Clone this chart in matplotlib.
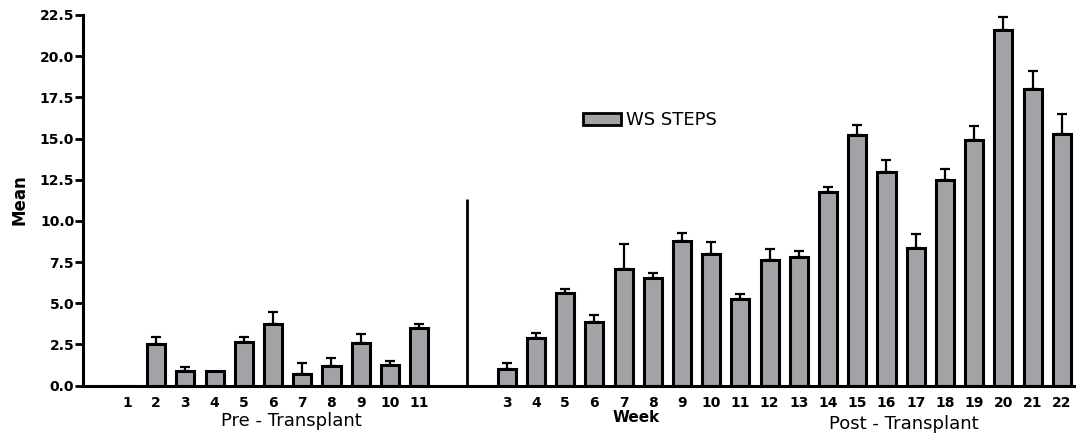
import numpy as np
import matplotlib
matplotlib.use("Agg")
import matplotlib.pyplot as plt

# ------------------------------------------------------------
# data
# ------------------------------------------------------------
PRE_WEEKS = [1, 2, 3, 4, 5, 6, 7, 8, 9, 10, 11]
PRE_MEAN = [0.0, 2.50, 0.90, 0.90, 2.62, 3.73, 0.68, 1.18, 2.56, 1.22, 3.47]
PRE_ERR = [0.0, 0.46, 0.20, 0.0, 0.32, 0.71, 0.69, 0.51, 0.55, 0.27, 0.24]

POST_WEEKS = [3, 4, 5, 6, 7, 8, 9, 10, 11, 12, 13, 14, 15, 16, 17, 18, 19, 20, 21, 22]
POST_MEAN = [0.98, 2.90, 5.60, 3.86, 7.09, 6.55, 8.77, 7.98, 5.27, 7.64,
             7.80, 11.73, 15.23, 12.98, 8.33, 12.48, 14.91, 21.58, 17.98, 15.26]
POST_ERR = [0.41, 0.31, 0.28, 0.40, 1.52, 0.30, 0.49, 0.75, 0.30, 0.63,
            0.37, 0.32, 0.61, 0.69, 0.85, 0.65, 0.86, 0.78, 1.10, 1.22]

SERIES_NAME = "WS STEPS"
Y_TICKS = [0.0, 2.5, 5.0, 7.5, 10.0, 12.5, 15.0, 17.5, 20.0, 22.5]

# ------------------------------------------------------------
# style
# ------------------------------------------------------------
BAR_COLOR = "#a3a3a7"
EDGE_LW = 2.2
BAR_WIDTH = 0.62
POST_OFFSET = 11          # post-transplant week w sits at x = w + 11
DIVIDER_X = 12.64
DIVIDER_TOP = 11.3


def main():
    fig = plt.figure(figsize=(10.76, 4.36), dpi=100)
    ax = fig.add_axes([0.0771, 0.1158, 0.9219, 0.8498])

    pre_x = np.array(PRE_WEEKS, dtype=float)
    post_x = np.array(POST_WEEKS, dtype=float) + POST_OFFSET
    xs = np.concatenate([pre_x, post_x])
    means = np.array(PRE_MEAN + POST_MEAN)
    errs = np.array(PRE_ERR + POST_ERR)

    # error bars (upper only), behind the bars
    m = errs > 0
    ax.errorbar(xs[m], means[m], yerr=[np.zeros(m.sum()), errs[m]],
                fmt="none", ecolor="black", elinewidth=1.6,
                capsize=3.8, capthick=1.6, zorder=2)

    ax.bar(xs, means, width=BAR_WIDTH, color=BAR_COLOR,
           edgecolor="black", linewidth=EDGE_LW, zorder=3,
           label=SERIES_NAME)

    # pre / post divider
    ax.plot([DIVIDER_X, DIVIDER_X], [0, DIVIDER_TOP], color="black",
            linewidth=2.0, solid_capstyle="butt", zorder=4)

    ax.set_xlim(-0.506, 33.45)
    ax.set_ylim(0, 22.5)
    ax.set_xticks(xs)
    ax.set_xticklabels([str(w) for w in PRE_WEEKS + POST_WEEKS])
    ax.set_yticks(Y_TICKS)
    ax.set_yticklabels([f"{v:.1f}" for v in Y_TICKS])

    for s in ("top", "right"):
        ax.spines[s].set_visible(False)
    for s in ("left", "bottom"):
        ax.spines[s].set_linewidth(2.2)
        ax.spines[s].set_zorder(5)

    ax.tick_params(axis="x", length=0, pad=7.5, labelsize=10)
    ax.tick_params(axis="y", length=5.5, width=2.0, pad=0.8, labelsize=10,
                   direction="out")
    for lab in ax.get_xticklabels() + ax.get_yticklabels():
        lab.set_fontweight("bold")
        lab.set_family("DejaVu Sans")

    leg = ax.legend(loc="center left", bbox_to_anchor=(583 / 1076, 1 - 120 / 436),
                    bbox_transform=fig.transFigure, frameon=False,
                    borderpad=0, borderaxespad=0, handlelength=2.1,
                    handleheight=0.65, handletextpad=0.3,
                    prop={"family": "DejaVu Sans", "size": 13})
    for h in leg.legend_handles:
        h.set_linewidth(2.0)

    # axis labels
    fig.text(20 / 1076, 1 - 200 / 436, "Mean", rotation=90, ha="center",
             va="center", fontsize=12, fontweight="bold",
             family=["Liberation Sans Narrow", "DejaVu Sans"])
    fig.text(636 / 1076, 1 - 417 / 436, "Week", ha="center", va="center",
             fontsize=11, fontweight="bold", family="DejaVu Sans")
    fig.text(291 / 1076, 1 - 421 / 436, "Pre - Transplant", ha="center",
             va="center", fontsize=13, family="DejaVu Sans")
    fig.text(904 / 1076, 1 - 424 / 436, "Post - Transplant", ha="center",
             va="center", fontsize=13, family="DejaVu Sans")

    fig.savefig("out.png", dpi=100)
    plt.close(fig)


if __name__ == "__main__":
    main()
